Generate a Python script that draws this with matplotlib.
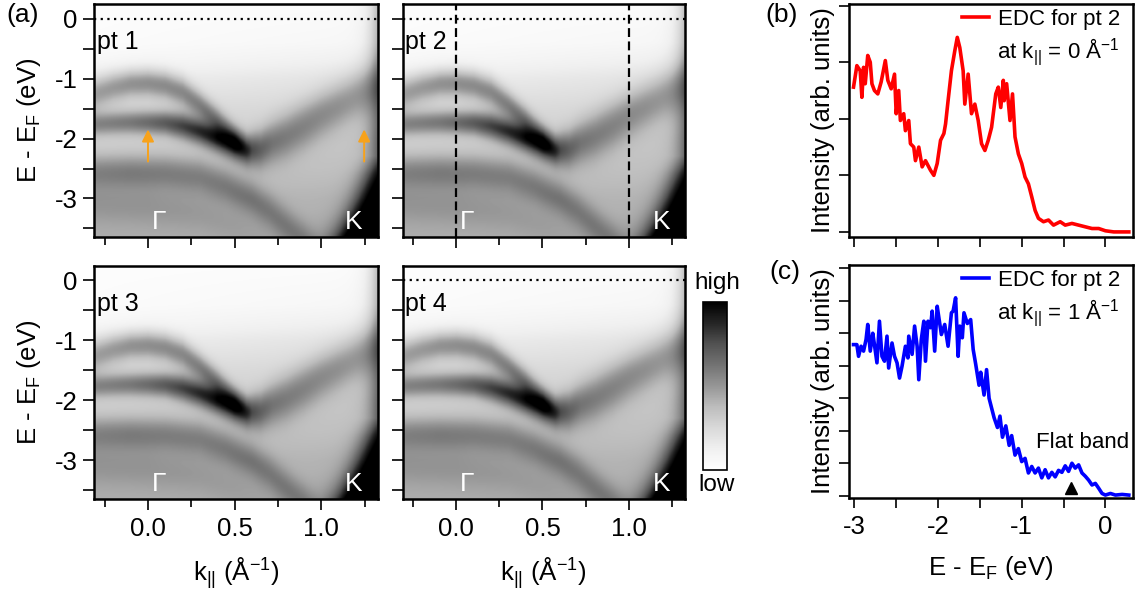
import numpy as np
import matplotlib
matplotlib.use("Agg")
import matplotlib.pyplot as plt

plt.rcParams['font.family'] = ['Liberation Sans', 'DejaVu Sans']
plt.rcParams['mathtext.fontset'] = 'custom'
plt.rcParams['mathtext.rm'] = 'Liberation Sans'
plt.rcParams['mathtext.it'] = 'Liberation Sans:italic'
plt.rcParams['axes.unicode_minus'] = False

# ---------------- data ----------------
panel_names = ["pt 1", "pt 2", "pt 3", "pt 4"]
k_range = [-0.31, 1.325]
e_range = [-3.65, 0.25]

# band dispersions (k in 1/A, E in eV)
bandA_k = [-0.31, -0.2, -0.1, 0.0, 0.1, 0.2, 0.3, 0.4, 0.5, 0.6]
bandA_E = [-1.25, -1.15, -1.09, -1.08, -1.12, -1.23, -1.45, -1.72, -1.98, -2.20]
bandA_a = [0.30, 0.33, 0.36, 0.37, 0.37, 0.36, 0.35, 0.36, 0.28, 0.0]
bandA_w = [0.19, 0.18, 0.17, 0.17, 0.17, 0.17, 0.16, 0.16, 0.15, 0.15]

bandB_k = [-0.31, -0.2, -0.1, 0.0, 0.1, 0.2, 0.3, 0.4, 0.5, 0.57, 0.65, 0.72, 0.8, 0.9, 1.0, 1.1, 1.2, 1.325]
bandB_E = [-1.77, -1.75, -1.74, -1.74, -1.75, -1.80, -1.89, -2.01, -2.13, -2.21, -2.18, -2.07, -1.96, -1.79, -1.61, -1.45, -1.29, -1.13]
bandB_a = [0.32, 0.34, 0.36, 0.40, 0.46, 0.53, 0.59, 0.63, 0.60, 0.50, 0.38, 0.31, 0.29, 0.28, 0.27, 0.26, 0.24, 0.22]
bandB_w = [0.14, 0.14, 0.14, 0.14, 0.14, 0.15, 0.15, 0.15, 0.16, 0.17, 0.21, 0.24, 0.26, 0.27, 0.27, 0.27, 0.27, 0.27]

bandD_k = [-0.31, -0.1, 0.1, 0.3, 0.45, 0.6, 0.7, 0.8, 0.9, 1.0]
bandD_E = [-2.57, -2.57, -2.58, -2.64, -2.80, -3.02, -3.22, -3.46, -3.70, -3.95]
bandD_a = [0.22, 0.24, 0.23, 0.22, 0.22, 0.22, 0.20, 0.18, 0.15, 0.10]
bandD_w = [0.20, 0.20, 0.20, 0.20, 0.20, 0.20, 0.20, 0.20, 0.20, 0.20]

bandE_k = [-0.31, 0.0, 0.3, 0.5, 0.7]
bandE_E = [-3.10, -3.14, -3.24, -3.44, -3.70]
bandE_a = [0.10, 0.10, 0.08, 0.06, 0.03]
bandE_w = [0.24, 0.24, 0.24, 0.24, 0.24]

# steep band at K (edge of the dark corner)
coneK_E = [-3.7, -3.4, -3.0, -2.6, -2.3]
coneK_k = [1.10, 1.15, 1.22, 1.28, 1.335]

# smooth background versus energy, at the left and right edges of the maps
bg_E = [-3.65, -3.0, -2.5, -2.0, -1.5, -1.0, -0.7, -0.4, 0.25]
bg_left = [0.42, 0.40, 0.34, 0.26, 0.22, 0.13, 0.06, 0.03, 0.02]
bg_right = [0.42, 0.40, 0.36, 0.33, 0.27, 0.20, 0.13, 0.07, 0.03]

# EDC (b): k = 0
edc_b_E = [-3.01, -2.97, -2.93, -2.91, -2.89, -2.87, -2.84, -2.81, -2.79, -2.76, -2.72, -2.68, -2.63, -2.60,
           -2.56, -2.52, -2.50, -2.47, -2.45, -2.41, -2.39, -2.35, -2.33, -2.29, -2.27, -2.23, -2.19, -2.15,
           -2.09, -2.05, -2.01, -1.97, -1.93, -1.91, -1.88, -1.84, -1.80, -1.77, -1.74, -1.70, -1.68, -1.64,
           -1.60, -1.56, -1.52, -1.48, -1.44, -1.40, -1.36, -1.31, -1.28, -1.25, -1.22, -1.21, -1.18, -1.14,
           -1.11, -1.08, -1.04, -1.00, -0.96, -0.92, -0.88, -0.84, -0.80, -0.74, -0.68, -0.62, -0.54, -0.48,
           -0.40, -0.32, -0.24, -0.16, -0.08, 0.00, 0.10, 0.28]
edc_b_I = [2.56, 2.94, 2.85, 2.38, 2.91, 2.62, 3.12, 3.00, 2.62, 2.50, 2.44, 2.65, 3.03, 2.68,
           2.53, 2.79, 2.09, 2.50, 1.97, 2.09, 1.79, 1.97, 1.56, 1.50, 1.26, 1.50, 1.15, 1.26,
           1.09, 1.00, 1.21, 1.62, 1.74, 1.91, 2.32, 2.85, 3.20, 3.44, 3.26, 2.85, 2.26, 2.79,
           2.09, 2.26, 1.97, 1.56, 1.44, 1.62, 1.85, 2.44, 2.56, 2.20, 2.68, 2.32, 2.62, 1.97,
           2.44, 1.68, 1.38, 1.21, 0.97, 0.85, 0.62, 0.38, 0.24, 0.18, 0.21, 0.12, 0.18, 0.12,
           0.15, 0.12, 0.09, 0.06, 0.06, 0.02, 0.00, 0.00]

# EDC (c): k = 1
edc_c_E = [-3.01, -2.97, -2.95, -2.92, -2.89, -2.86, -2.84, -2.81, -2.78, -2.76, -2.73, -2.70, -2.67, -2.64,
           -2.61, -2.59, -2.55, -2.52, -2.49, -2.46, -2.43, -2.39, -2.36, -2.35, -2.31, -2.28, -2.25, -2.23,
           -2.20, -2.17, -2.15, -2.12, -2.09, -2.07, -2.04, -2.01, -1.99, -1.96, -1.92, -1.88, -1.84, -1.82,
           -1.79, -1.76, -1.74, -1.71, -1.69, -1.65, -1.61, -1.58, -1.55, -1.51, -1.49, -1.45, -1.42, -1.39,
           -1.37, -1.33, -1.29, -1.26, -1.23, -1.19, -1.15, -1.12, -1.08, -1.04, -1.00, -0.96, -0.92, -0.88,
           -0.84, -0.80, -0.76, -0.72, -0.68, -0.64, -0.60, -0.56, -0.52, -0.48, -0.44, -0.40, -0.36, -0.32,
           -0.28, -0.24, -0.20, -0.16, -0.12, -0.08, -0.04, 0.00, 0.06, 0.12, 0.20, 0.28]
edc_c_I = [4.65, 4.65, 4.29, 4.60, 4.45, 4.81, 5.27, 4.45, 5.00, 4.65, 4.09, 5.37, 4.29, 4.14,
           4.91, 3.93, 4.70, 4.29, 4.09, 3.62, 3.99, 4.60, 4.24, 4.91, 4.35, 5.22, 4.60, 3.57,
           4.81, 5.37, 4.14, 5.37, 5.17, 5.68, 4.45, 5.83, 5.48, 4.96, 5.27, 4.60, 5.63, 5.68,
           6.09, 4.29, 5.22, 4.86, 5.63, 5.30, 5.42, 4.50, 4.05, 3.40, 3.80, 3.10, 3.88, 3.00,
           2.80, 2.40, 2.10, 2.45, 1.80, 2.15, 1.55, 1.85, 1.25, 1.45, 1.05, 1.15, 0.70, 0.90,
           0.70, 0.85, 0.55, 0.80, 0.55, 0.72, 0.58, 0.78, 0.72, 0.92, 0.75, 1.00, 0.85, 0.95,
           0.70, 0.60, 0.48, 0.33, 0.38, 0.23, 0.07, 0.02, 0.07, 0.02, 0.04, 0.02]

flat_band_E = -0.41
flat_band_I = 0.25

# ---------------- build ARPES map ----------------
k_axis = np.linspace(k_range[0], k_range[1], 331)
e_axis = np.linspace(e_range[0], e_range[1], 391)


def band_term(kp, ep, ap, wp):
    ec = np.interp(k_axis, kp, ep)
    a = np.interp(k_axis, kp, ap)
    w = np.interp(k_axis, kp, wp)
    return a[None, :] * np.exp(-0.5 * ((e_axis[:, None] - ec[None, :]) / w[None, :]) ** 2)


frac = (k_axis - k_range[0]) / (k_range[1] - k_range[0])
img = (np.interp(e_axis, bg_E, bg_left)[:, None] * (1 - frac[None, :])
       + np.interp(e_axis, bg_E, bg_right)[:, None] * frac[None, :])
img = img + band_term(bandA_k, bandA_E, bandA_a, bandA_w)
img = img + band_term(bandB_k, bandB_E, bandB_a, bandB_w)
img = img + band_term(bandD_k, bandD_E, bandD_a, bandD_w)
img = img + band_term(bandE_k, bandE_E, bandE_a, bandE_w)
kb = np.interp(e_axis, coneK_E, coneK_k)
img = img + 0.8 / (1.0 + np.exp(-(k_axis[None, :] - kb[:, None]) / 0.04))
img = np.clip(img, 0, 1)

# ---------------- figure ----------------
W, H = 1141, 597
fig = plt.figure(figsize=(W / 100, H / 100), dpi=100)


def pos(l, t, r, b):
    return [l / W, 1 - b / H, (r - l) / W, (b - t) / H]


FS = 18.5
positions = [pos(94.3, 4, 377.5, 237.3), pos(402.5, 4, 685, 237.3),
             pos(94.3, 265.5, 377.5, 499), pos(402.5, 265.5, 685, 499)]
orange = '#F7A21B'
im = None
for i, (name, p) in enumerate(zip(panel_names, positions)):
    ax = fig.add_axes(p)
    im = ax.imshow(img, extent=[k_range[0], k_range[1], e_range[0], e_range[1]], origin='lower',
                   aspect='auto', cmap='Greys', vmin=0, vmax=1, interpolation='bilinear')
    ax.set_xlim(k_range)
    ax.set_ylim(e_range)
    ax.set_xticks([0, 0.5, 1.0])
    ax.set_xticks([-0.25, 0.25, 0.75, 1.25], minor=True)
    ax.set_yticks([0, -1, -2, -3])
    ax.set_yticks([-0.5, -1.5, -2.5, -3.5], minor=True)
    ax.tick_params(which='major', direction='out', length=8, width=1.2, labelsize=FS, pad=4)
    ax.tick_params(axis='x', which='minor', direction='out', length=5.5, width=1.2)
    ax.tick_params(axis='y', which='minor', direction='out', length=8, width=1.2)
    ax.tick_params(axis='x', which='major', pad=5)
    for s in ax.spines.values():
        s.set_linewidth(1.8)
    if i < 2:
        ax.set_xticklabels([])
    else:
        ax.set_xticklabels(['0.0', '0.5', '1.0'])
        ax.set_xlabel(r'k$_\mathregular{||}$ (Å$^\mathregular{-1}$)', fontsize=FS, va='center')
        ax.xaxis.set_label_coords(0.5, -0.316)
    if i % 2 == 1:
        ax.set_yticklabels([])
    else:
        ax.set_yticklabels(['0', '-1', '-2', '-3'])
        ax.set_ylabel(r'E - E$_\mathregular{F}$ (eV)', fontsize=FS, va='center')
        ax.yaxis.set_label_coords(-0.232, 0.5)
    if i != 2:
        ax.axhline(0, color='black', lw=1.6, ls=(0, (1, 2)))
    if i == 1:
        ax.axvline(0.0, color='black', lw=1.6, ls=(0, (4, 2)))
        ax.axvline(1.0, color='black', lw=1.6, ls=(0, (4, 2)))
    if i == 0:
        for kx in [0.0, 1.248]:
            ax.annotate('', xy=(kx, -1.80), xytext=(kx, -2.43),
                        arrowprops=dict(arrowstyle='-|>', color=orange, lw=1.4, mutation_scale=18))
    ax.text(0.008, 0.835, name, transform=ax.transAxes, fontsize=18, ha='left', va='center')
    ax.text(0.065, -3.4, 'Γ', color='white', fontsize=19, ha='center', va='center')
    ax.text(1.19, -3.4, 'K', color='white', fontsize=19, ha='center', va='center')

# colorbar
cax = fig.add_axes(pos(703, 302, 727, 470))
cb = fig.colorbar(im, cax=cax, ticks=[])
cb.outline.set_linewidth(1.2)
fig.text(717 / W, 1 - 283 / H, 'high', fontsize=17.5, ha='center', va='center')
fig.text(717 / W, 1 - 485 / H, 'low', fontsize=17.5, ha='center', va='center')

# EDC panels
edc_specs = [
    (pos(848.5, 4, 1133, 237), edc_b_E, edc_b_I, 'red', (-0.09, 4.03), range(0, 5), '0'),
    (pos(848.5, 265, 1133, 498), edc_c_E, edc_c_I, 'blue', (-0.07, 7.1), range(0, 8), '1'),
]
for j, (p, xe, yi, col, yl, yt, kval) in enumerate(edc_specs):
    ax = fig.add_axes(p)
    ax.plot(xe, yi, color=col, lw=2.6, label='EDC for pt 2')
    ax.set_xlim(-3.07, 0.33)
    ax.set_ylim(*yl)
    ax.set_yticks(list(yt))
    ax.set_yticklabels([])
    ax.set_xticks([-3, -2, -1, 0])
    ax.set_xticks([-2.5, -1.5, -0.5], minor=True)
    ax.tick_params(which='both', direction='out', length=7, width=1.2, labelsize=FS, pad=5)
    for s in ax.spines.values():
        s.set_linewidth(1.8)
    ax.set_ylabel('Intensity (arb. units)', fontsize=FS, va='center')
    ax.yaxis.set_label_coords(-0.091, 0.5)
    leg = ax.legend(loc='upper left', bbox_to_anchor=(0.40, 0.978), frameon=False, fontsize=16,
                    handlelength=1.2, handletextpad=0.42, borderpad=0, borderaxespad=0)
    ax.text(0.523, 0.794, r'at k$_\mathregular{||}$ = ' + kval + r' Å$^\mathregular{-1}$',
            transform=ax.transAxes, fontsize=16, ha='left', va='center')
    if j == 0:
        ax.set_xticklabels([])
    else:
        ax.set_xticklabels(['-3', '-2', '-1', '0'])
        ax.set_xlabel(r'E - E$_\mathregular{F}$ (eV)', fontsize=FS, va='center')
        ax.xaxis.set_label_coords(0.5, -0.30)
        ax.plot([flat_band_E], [flat_band_I], marker='^', color='black', markersize=8, ls='none')
        ax.text(-0.27, 1.63, 'Flat band', fontsize=16, ha='center', va='center')

fig.text(23 / W, 1 - 15 / H, '(a)', fontsize=19, ha='center', va='center')
fig.text(782 / W, 1 - 15 / H, '(b)', fontsize=19, ha='center', va='center')
fig.text(785 / W, 1 - 272 / H, '(c)', fontsize=19, ha='center', va='center')

fig.savefig('out.png', dpi=100)
